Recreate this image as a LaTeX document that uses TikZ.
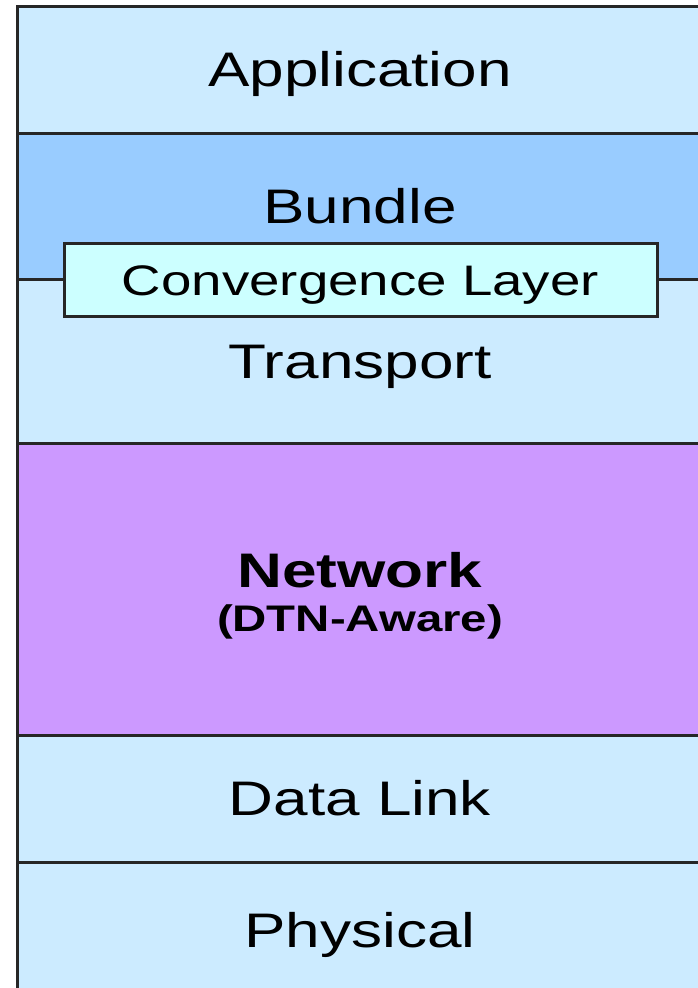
\documentclass[tikz,border=0pt]{standalone}
\usepackage{fontspec}
\setmainfont[FakeStretch=1.28]{Liberation Sans}
\definecolor{layerblue}{HTML}{CCEBFF}
\definecolor{bundleblue}{HTML}{99CCFF}
\definecolor{convcyan}{HTML}{CCFFFF}
\definecolor{netpurple}{HTML}{CC99FF}
\tikzset{layer/.style={draw=black!85, line width=3pt, fill=layerblue, minimum width=686pt, inner sep=0pt, outer sep=0pt,
    text height=36pt, text depth=2pt, font=\fontsize{48.5}{54}\selectfont},
convbox/.style={draw=black!85, line width=3pt, fill=convcyan, minimum width=593pt, minimum height=73pt, inner sep=0pt,
    text height=31pt, text depth=0pt, font=\fontsize{42.7}{48}\selectfont},
netlabel/.style={anchor=base, inner sep=0pt}}

\begin{document}
\begin{tikzpicture}[x=1pt,y=-1pt]

\useasboundingbox (0,0) rectangle (698,988);
\clip (0,0) rectangle (698,988);

\node[layer, minimum height=127pt] (app) at (360,69.5) {Application};
\node[layer, minimum height=146pt, fill=bundleblue] (bundle) at (360,206) {Bundle};
\node[layer, minimum height=164pt] (transport) at (360,361) {Transport};
\node[layer, minimum height=292pt, fill=netpurple] (network) at (360,589) {};
\node[layer, minimum height=127pt] (datalink) at (360,798.5) {Data Link};
\node[layer, minimum height=136pt] (physical) at (360,930) {Physical};

\node[convbox] (conv) at (360.5,279.5) {Convergence Layer};

% network layer text, two sizes
\node[netlabel, font=\fontsize{48.5}{54}\selectfont\bfseries] (netname) at (360,587) {Network};
\node[netlabel, font=\fontsize{37}{42}\selectfont\bfseries] (netnote) at (360,631) {(DTN-Aware)};

\end{tikzpicture}
\end{document}
